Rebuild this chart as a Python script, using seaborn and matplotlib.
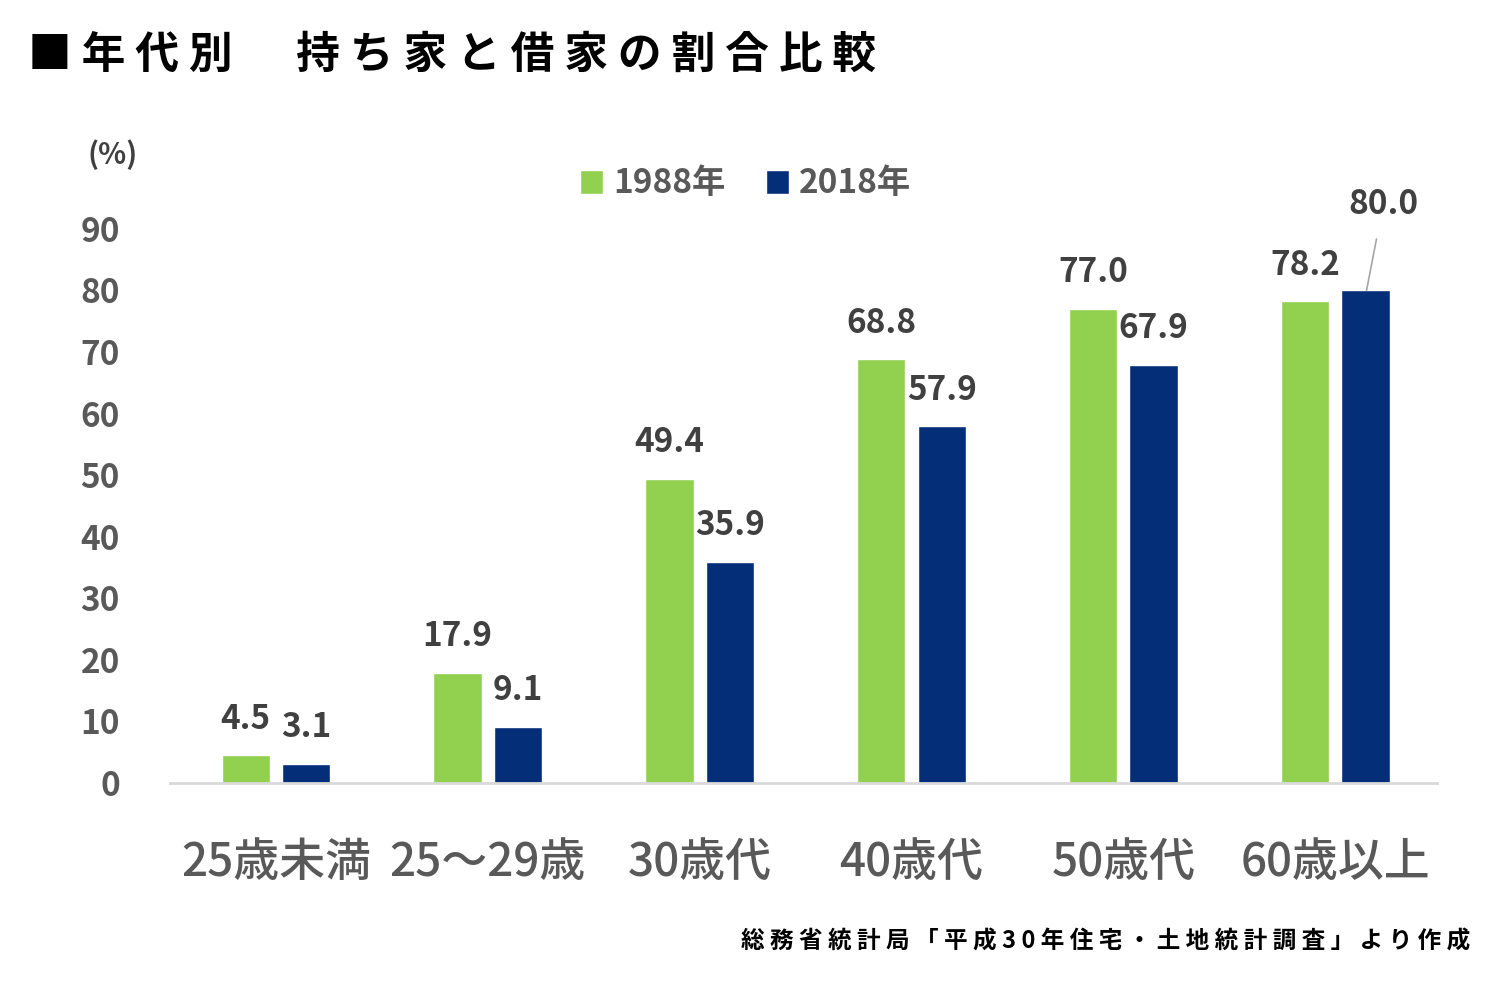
import pandas as pd
import matplotlib
matplotlib.use("Agg")
import matplotlib.pyplot as plt
from matplotlib.patches import Patch
import seaborn as sns

# --- data ---
categories = ["25歳未満", "25～29歳", "30歳代", "40歳代", "50歳代", "60歳以上"]
years = ["1988年", "2018年"]
values_1988 = [4.5, 17.9, 49.4, 68.8, 77.0, 78.2]
values_2018 = [3.1, 9.1, 35.9, 57.9, 67.9, 80.0]
y_ticks = [0, 10, 20, 30, 40, 50, 60, 70, 80, 90]

GREEN = "#92D050"
NAVY = "#052E79"
GRAY = "#595959"
DARK = "#404040"

df = pd.DataFrame({
    "年代": categories * 2,
    "割合": values_1988 + values_2018,
    "年": [years[0]] * len(categories) + [years[1]] * len(categories),
})

sns.set_theme(style="white")
plt.rcParams["font.family"] = ["Noto Sans CJK JP", "DejaVu Sans"]

fig = plt.figure(figsize=(15, 10), dpi=100)
ax = fig.add_axes([0.1133, 0.217, 0.8447, 0.585])

sns.barplot(data=df, x="年代", y="割合", hue="年", order=categories, hue_order=years,
            palette=[GREEN, NAVY], width=0.57, gap=0.2, saturation=1,
            legend=False, ax=ax)

ax.set_xlim(-0.5, 5.48)
ax.set_ylim(0, 95)
ax.set_yticks(y_ticks)
ax.set_xlabel("")
ax.set_ylabel("")
ax.tick_params(axis="y", length=0, pad=36, labelsize=24, labelcolor=GRAY)
ax.tick_params(axis="x", length=0, pad=40, labelsize=33, labelcolor=GRAY)
for lbl in ax.get_yticklabels():
    lbl.set_fontweight("bold")
for lbl in ax.get_xticklabels():
    lbl.set_fontweight("medium")

for s in ["top", "right", "left"]:
    ax.spines[s].set_visible(False)
ax.spines["bottom"].set_color("#D9D9D9")
ax.spines["bottom"].set_linewidth(2)

# value labels above the bars
for container, vals in zip(ax.containers, [values_1988, values_2018]):
    for bar, v in zip(container, vals):
        x = bar.get_x() + bar.get_width() / 2
        if v == 80.0:
            ax.annotate(f"{v:.1f}", xy=(x + 0.005, v), xytext=(12, 62),
                        textcoords="offset points", ha="center", va="center",
                        fontsize=24, fontweight="bold", color=DARK,
                        arrowprops=dict(arrowstyle="-", color="#A6A6A6", lw=1.2,
                                        shrinkA=11, shrinkB=0))
        else:
            ax.annotate(f"{v:.1f}", xy=(x, v), xytext=(0, 26),
                        textcoords="offset points", ha="center", va="center",
                        fontsize=24, fontweight="bold", color=DARK)

# legend
handles = [Patch(facecolor=GREEN, label=years[0]), Patch(facecolor=NAVY, label=years[1])]
leg = fig.legend(handles=handles, loc="center", bbox_to_anchor=(0.497, 0.816), ncol=2,
                 frameon=False, fontsize=24, handlelength=0.7, handleheight=0.7,
                 handletextpad=0.3, columnspacing=1.2)
for t in leg.get_texts():
    t.set_color(GRAY)
    t.set_fontweight("bold")

fig.text(0.075, 0.845, "(%)", fontsize=21, fontweight="bold", color=DARK,
         ha="center", va="center")

# title and source note (letter-spaced like the original)
fig.text(0.019, 0.945, "■ 年 代 別 　 持 ち 家 と 借 家 の 割 合 比 較", fontsize=31.5,
         fontweight="bold", color="black", ha="left", va="center")
fig.text(0.98, 0.058, "総 務 省 統 計 局 「 平 成 3 0 年 住 宅 ・ 土 地 統 計 調 査 」 よ り 作 成",
         fontsize=17, fontweight="bold", color="black", ha="right", va="center")

fig.savefig("out.png", dpi=100, facecolor="white")
